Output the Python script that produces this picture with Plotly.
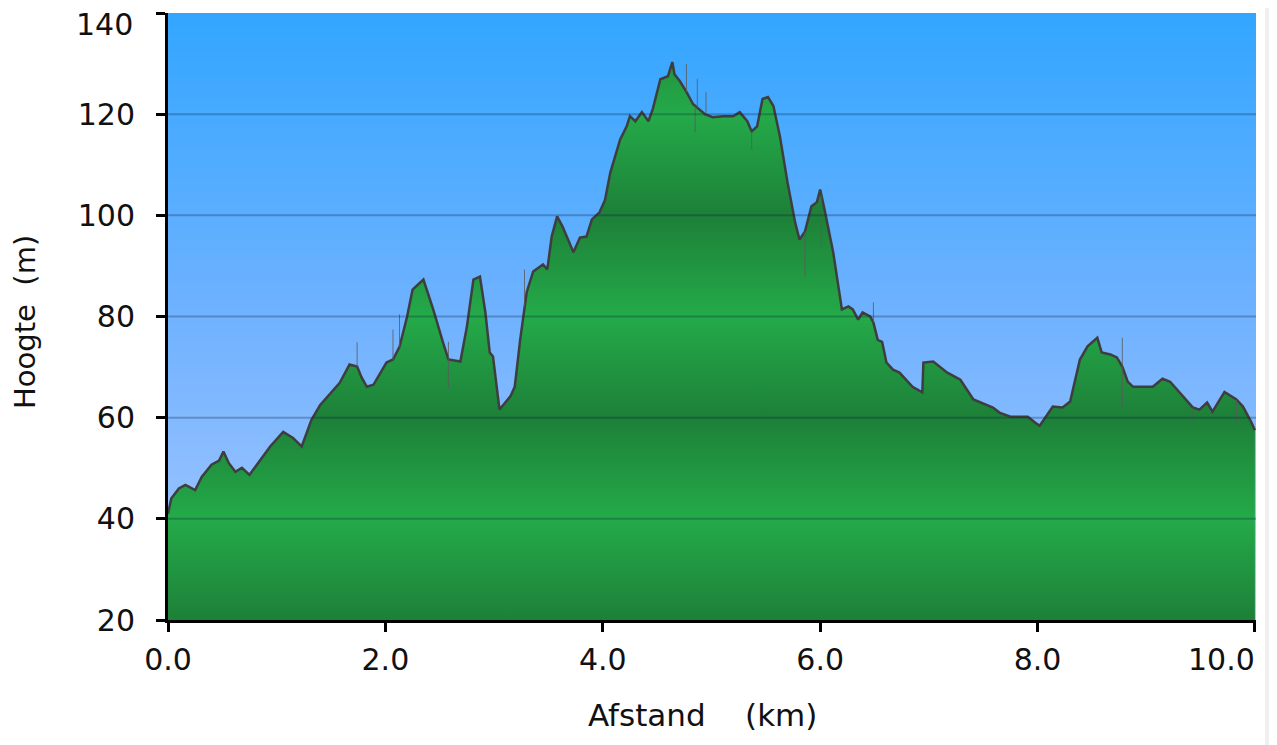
import numpy as np
import plotly.graph_objects as go

# ---- data (distance in km, elevation in m) ----
dist_km = [0.00, 0.03, 0.10, 0.16, 0.25, 0.31, 0.40, 0.47, 0.51, 0.56, 0.62, 0.68, 0.75, 0.83, 0.94,
           1.06, 1.15, 1.23, 1.32, 1.40, 1.46, 1.58, 1.67, 1.74, 1.78, 1.83, 1.89, 2.01, 2.07, 2.13,
           2.20, 2.25, 2.35, 2.44, 2.53, 2.58, 2.69, 2.75, 2.81, 2.87, 2.92, 2.96, 2.99, 3.05, 3.15,
           3.19, 3.24, 3.30, 3.36, 3.45, 3.49, 3.53, 3.58, 3.63, 3.73, 3.79, 3.85, 3.90, 3.97, 4.02,
           4.07, 4.16, 4.22, 4.25, 4.30, 4.36, 4.42, 4.46, 4.53, 4.60, 4.64, 4.66, 4.71, 4.77, 4.83,
           4.88, 4.94, 5.01, 5.11, 5.20, 5.26, 5.33, 5.37, 5.42, 5.47, 5.52, 5.57, 5.63, 5.70, 5.77,
           5.81, 5.86, 5.92, 5.97, 6.00, 6.04, 6.12, 6.20, 6.26, 6.30, 6.35, 6.39, 6.46, 6.49, 6.53,
           6.57, 6.61, 6.67, 6.73, 6.85, 6.94, 6.95, 7.04, 7.17, 7.29, 7.41, 7.59, 7.65, 7.75, 7.84,
           7.91, 7.98, 8.02, 8.14, 8.23, 8.30, 8.39, 8.46, 8.55, 8.59, 8.67, 8.73, 8.78, 8.83, 8.88,
           9.06, 9.15, 9.22, 9.31, 9.43, 9.49, 9.56, 9.61, 9.72, 9.83, 9.89, 9.97, 10.00]
elev_m = [41.0, 44.0, 46.0, 46.7, 45.7, 48.3, 50.7, 51.5, 53.3, 51.0, 49.3, 50.1, 48.7, 51.1, 54.3,
          57.2, 56.0, 54.3, 59.6, 62.5, 64.0, 66.9, 70.5, 70.1, 68.0, 66.1, 66.5, 70.9, 71.5, 74.0,
          80.0, 85.3, 87.3, 81.4, 74.9, 71.5, 71.1, 78.0, 87.3, 87.9, 80.8, 72.9, 72.1, 61.6, 64.2,
          66.1, 75.4, 84.8, 88.9, 90.3, 89.3, 95.8, 99.8, 97.8, 92.7, 95.6, 95.8, 99.2, 100.6, 103.0,
          108.5, 115.0, 117.6, 119.6, 118.6, 120.4, 118.6, 121.0, 126.9, 127.5, 130.3, 127.9, 126.5, 124.4, 122.0,
          121.0, 120.0, 119.4, 119.6, 119.6, 120.4, 118.6, 116.6, 117.6, 123.0, 123.4, 121.6, 115.6, 106.5, 98.6,
          95.2, 96.8, 101.8, 102.6, 105.1, 101.2, 92.7, 81.4, 82.0, 81.4, 79.4, 80.8, 80.0, 78.8, 75.4,
          75.0, 70.9, 69.5, 68.9, 66.1, 65.0, 70.9, 71.1, 68.9, 67.5, 63.6, 62.0, 61.0, 60.2, 60.2,
          60.2, 59.0, 58.4, 62.2, 62.0, 63.2, 71.5, 74.1, 75.8, 72.9, 72.5, 71.9, 70.1, 67.1, 66.1,
          66.1, 67.7, 67.1, 65.0, 62.0, 61.6, 63.0, 61.2, 65.1, 63.6, 62.2, 59.0, 57.5]

# thin measurement spikes (distance, profile level, spike end)
spike_km = [1.74, 2.07, 2.13, 2.58, 2.58, 3.28, 4.77, 4.87, 4.85, 4.95, 5.37, 5.86, 6.01, 6.49, 8.78, 8.78, 9.43, 9.83]
spike_base = [70.1, 71.5, 74.0, 71.5, 71.5, 82.0, 124.4, 121.2, 121.5, 120.0, 116.6, 96.8, 104.0, 78.8, 70.1, 70.1, 62.0, 63.6]
spike_end = [74.9, 77.4, 80.4, 66.0, 75.0, 89.3, 129.9, 127.0, 116.4, 124.4, 113.0, 87.9, 93.9, 82.8, 75.8, 62.0, 59.0, 59.0]

x_ticks = [0, 2, 4, 6, 8, 10]
x_labels = ["0.0", "2.0", "4.0", "6.0", "8.0", "10.0"]
y_ticks = [20, 40, 60, 80, 100, 120, 140]
y_labels = ["20", "40", "60", "80", "100", "120", "140"]
x_title = "Afstand\u00a0\u00a0\u00a0\u00a0(km)"
y_title = "Hoogte\u00a0\u00a0(m)"

# ---- styles ----
FONT = "DejaVu Sans, Verdana, sans-serif"
TXT = "#111111"
TICK_SIZE = 30
x_range = [0, 10.01]
y_range = [20, 140]

bg_y = np.linspace(y_range[0], y_range[1], 61)
bg_z = [[v, v] for v in bg_y]

fig = go.Figure()

# sky gradient background
fig.add_trace(go.Heatmap(
    x=x_range, y=bg_y, z=bg_z, zsmooth="best", showscale=False, hoverinfo="skip",
    colorscale=[[0, "rgb(168,200,255)"], [0.5, "rgb(112,178,255)"], [1, "rgb(50,166,255)"]],
))

dark = "rgb(29,128,56)"
bright = "rgb(36,170,73)"
fig.add_trace(go.Scatter(
    x=dist_km, y=elev_m, mode="lines", fill="tozeroy",
    line=dict(color="rgb(62,62,62)", width=2.5),
    fillgradient=dict(type="vertical", start=20, stop=140,
                      colorscale=[[0, dark], [1/6, bright], [2/6, dark], [3/6, bright],
                                  [4/6, dark], [5/6, bright], [1, dark]]),
    hoverinfo="skip", showlegend=False,
))

sx, sy = [], []
for k, b, e in zip(spike_km, spike_base, spike_end):
    sx += [k, k, None]
    sy += [b, e, None]
fig.add_trace(go.Scatter(x=sx, y=sy, mode="lines", line=dict(color="rgba(90,90,90,0.8)", width=1),
                         hoverinfo="skip", showlegend=False))

shapes = []
for v in y_ticks[1:-1]:
    shapes.append(dict(type="line", xref="paper", x0=0, x1=1, yref="y", y0=v, y1=v,
                       line=dict(color="rgba(10,30,60,0.28)", width=2), layer="above"))
# light strip at the right edge of the page
shapes.append(dict(type="rect", xref="paper", x0=1.0083, x1=1.06, yref="paper", y0=-0.3, y1=1.05,
                   fillcolor="#efefef", line=dict(width=0), layer="above"))

# the end labels are nudged inwards so they stay on the page
annotations = [
    dict(text=x_title, xref="paper", yref="paper", x=0.491, y=-0.1565, xanchor="center",
         yanchor="middle", showarrow=False, font=dict(family=FONT, size=31, color=TXT)),
    dict(text=y_title, xref="paper", yref="paper", x=-0.1314, y=0.491, xanchor="center",
         yanchor="middle", textangle=-90, showarrow=False, font=dict(family=FONT, size=29, color=TXT)),
    dict(text=y_labels[-1], xref="paper", yref="y", x=-33 / 1088, y=y_ticks[-1], xanchor="right",
         yanchor="middle", yshift=-11, showarrow=False, font=dict(family=FONT, size=TICK_SIZE, color=TXT)),
    dict(text=x_labels[-1], xref="paper", yref="paper", x=1.0009, y=0, xanchor="right",
         yanchor="middle", yshift=-39, showarrow=False, font=dict(family=FONT, size=TICK_SIZE, color=TXT)),
]

fig.update_layout(
    width=1277, height=745,
    margin=dict(l=160, r=29, t=5, b=133),
    paper_bgcolor="white", plot_bgcolor="white",
    showlegend=False,
    font=dict(family=FONT, size=28, color=TXT),
    shapes=shapes,
    annotations=annotations,
    xaxis=dict(range=x_range, tickvals=x_ticks, ticktext=x_labels[:-1] + [""], showgrid=False,
               zeroline=False, showline=True, linecolor="black", linewidth=3, ticks="outside",
               ticklen=9, tickwidth=3, tickcolor="black",
               tickfont=dict(size=TICK_SIZE, color=TXT), ticklabelstandoff=2,
               automargin=False),
    yaxis=dict(range=y_range, tickvals=y_ticks, ticktext=y_labels[:-1] + [""], showgrid=False,
               zeroline=False, showline=True, linecolor="black", linewidth=3, ticks="outside",
               ticklen=9, tickwidth=3, tickcolor="black",
               tickfont=dict(size=TICK_SIZE, color=TXT), ticklabelstandoff=15,
               automargin=False),
)

fig.write_html("out.html")
